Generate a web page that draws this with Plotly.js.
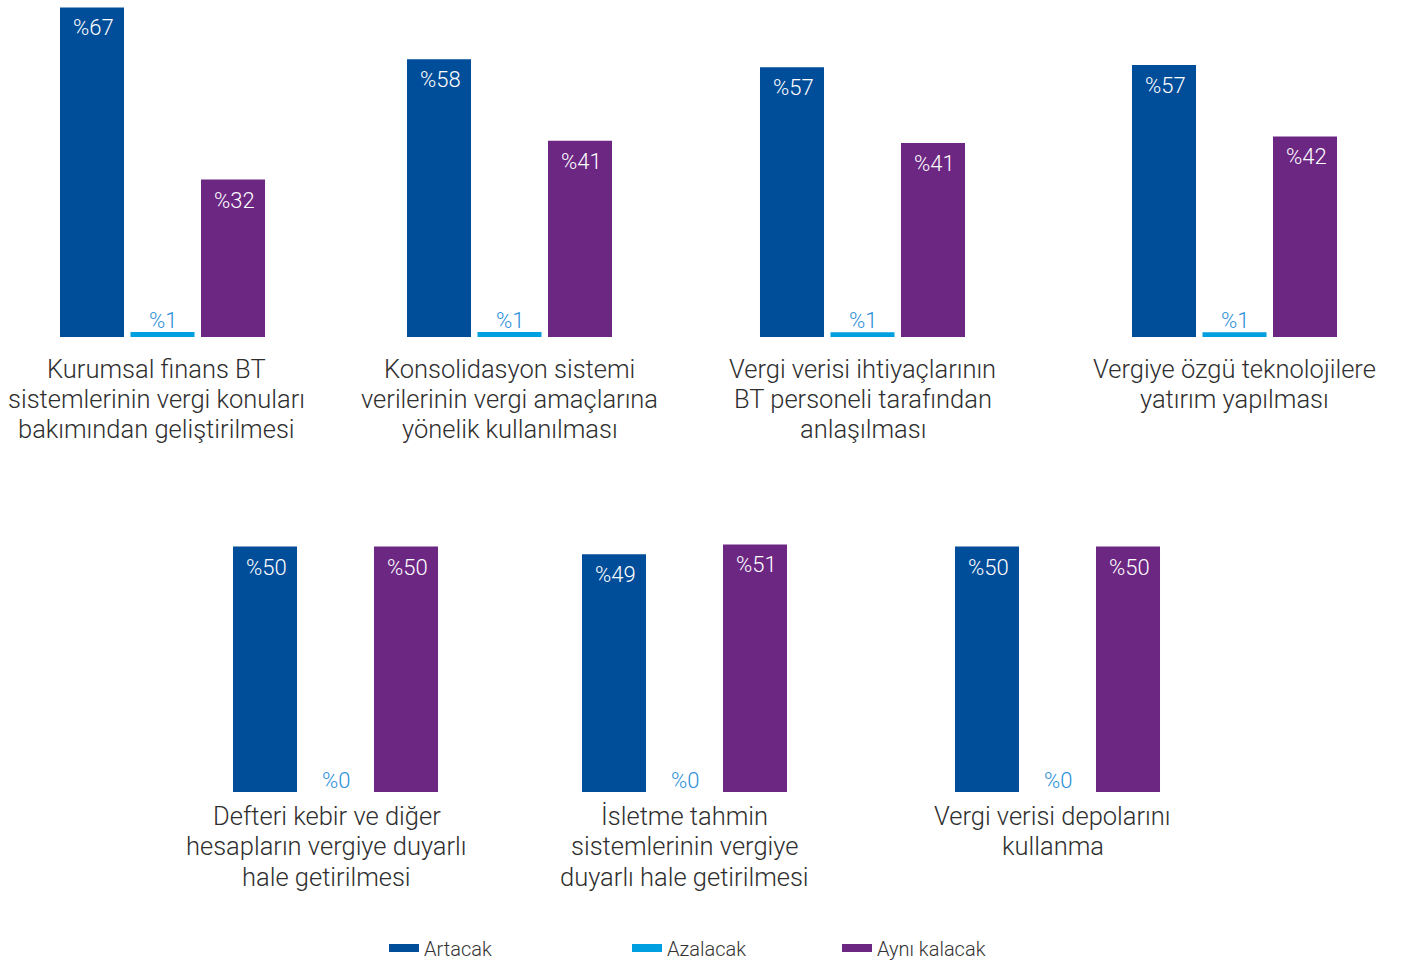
<!DOCTYPE html>
<html>
<head>
<meta charset="utf-8">
<script src="https://cdn.plot.ly/plotly-3.0.1.min.js"></script>
<style>
html,body{margin:0;padding:0;background:#fff;overflow:hidden;}
#chart{display:block;overflow:hidden;width:1406px;height:968px;}
</style>
</head>
<body>
<div id="chart"></div>
<script>
// ---- data ----
var seriesNames = ["Artacak", "Azalacak", "Aynı kalacak"];
var categories = [
  ["Kurumsal finans BT", "sistemlerinin vergi konuları", "bakımından geliştirilmesi"],
  ["Konsolidasyon sistemi", "verilerinin vergi amaçlarına", "yönelik kullanılması"],
  ["Vergi verisi ihtiyaçlarının", "BT personeli tarafından", "anlaşılması"],
  ["Vergiye özgü teknolojilere", "yatırım yapılması"],
  ["Defteri kebir ve diğer", "hesapların vergiye duyarlı", "hale getirilmesi"],
  ["İsletme tahmin", "sistemlerinin vergiye", "duyarlı hale getirilmesi"],
  ["Vergi verisi depolarını", "kullanma"]
];
var artacak  = [67, 58, 57, 57, 50, 49, 50];
var azalacak = [1, 1, 1, 1, 0, 0, 0];
var ayni     = [32, 41, 41, 42, 50, 51, 50];

// ---- styling / layout config ----
var colors = ["#004D99", "#009FDF", "#6C2783"];
var W = 1406, H = 968;
var groupLeft  = [56.75, 403.75, 756.75, 1128.75, 229.75, 578.75, 951.75]; // px
var groupWidth = 211.5;
var labelCenter = [156, 509.5, 862.5, 1234.5, 326.5, 684.5, 1052.5];
var rowOf = [0, 0, 0, 0, 1, 1, 1];
var rowBase = [339, 797], rowTop = [0, 500], labelLine1 = [371, 821], lineStep = 30.5;
var yMax = [68.5, 70.4, 71.2, 70.6, 60.1, 60.8, 60.1];
var fontMain = "Roboto, 'Liberation Sans', Arial, sans-serif";
function py(p) { return 1 - p / H; }

var data = [];
var layout = {
  width: W, height: H, autosize: false,
  margin: {l: 0, r: 0, t: 0, b: 0},
  paper_bgcolor: "#fff", plot_bgcolor: "rgba(0,0,0,0)",
  barmode: "overlay",
  annotations: [],
  hovermode: false
};

for (var g = 0; g < categories.length; g++) {
  var ax = g === 0 ? "" : String(g + 1);
  var vals = [artacak[g], azalacak[g], ayni[g]];
  data.push({
    type: "bar", x: seriesNames, y: vals, width: 0.908,
    marker: {color: colors, line: {width: 0}},
    xaxis: "x" + ax, yaxis: "y" + ax, showlegend: false, hoverinfo: "skip"
  });
  var r = rowOf[g];
  layout["xaxis" + ax] = {
    domain: [groupLeft[g] / W, (groupLeft[g] + groupWidth) / W],
    type: "category", categoryarray: seriesNames, range: [-0.5, 2.5],
    visible: false, fixedrange: true, anchor: "y" + ax
  };
  layout["yaxis" + ax] = {
    domain: [py(rowBase[r]), py(rowTop[r])],
    range: [0, yMax[g]], visible: false, fixedrange: true, anchor: "x" + ax
  };
  for (var s = 0; s < 3; s++) {
    var big = vals[s] >= 5;
    layout.annotations.push({
      xref: "x" + ax, yref: "y" + ax, x: seriesNames[s], y: vals[s],
      text: "%" + vals[s], showarrow: false, xshift: big ? 1 : 0,
      yanchor: big ? "top" : "bottom", yshift: big ? -6 : -3,
      font: {family: fontMain, size: 22, weight: 300, color: big ? "#ffffff" : "#2B8FD8"}
    });
  }
  for (var l = 0; l < categories[g].length; l++) {
    layout.annotations.push({
      xref: "paper", yref: "paper", x: labelCenter[g] / W, y: py(labelLine1[r] + l * lineStep),
      xanchor: "center", yanchor: "middle", align: "center", showarrow: false,
      text: categories[g][l],
      font: {family: fontMain, size: 25.5, weight: 300, color: "#2E2E2E"}
    });
  }
}

// legend entries
var legendX = [384, 627, 837];
var legendNames = ["legend", "legend2", "legend3"];
for (var s = 0; s < 3; s++) {
  data.push({
    type: "scatter", mode: "lines", x: [null], y: [null], name: seriesNames[s],
    line: {color: colors[s], width: 8}, xaxis: "x", yaxis: "y",
    showlegend: true, legend: legendNames[s], hoverinfo: "skip"
  });
  layout[legendNames[s]] = {
    x: legendX[s] / W, y: py(954), xanchor: "left", yanchor: "middle",
    orientation: "h", bgcolor: "rgba(0,0,0,0)", borderwidth: 0,
    font: {family: fontMain, size: 20, weight: 300, color: "#333333"}
  };
}

Plotly.newPlot("chart", data, layout, {displayModeBar: false, staticPlot: true});
</script>
</body>
</html>
